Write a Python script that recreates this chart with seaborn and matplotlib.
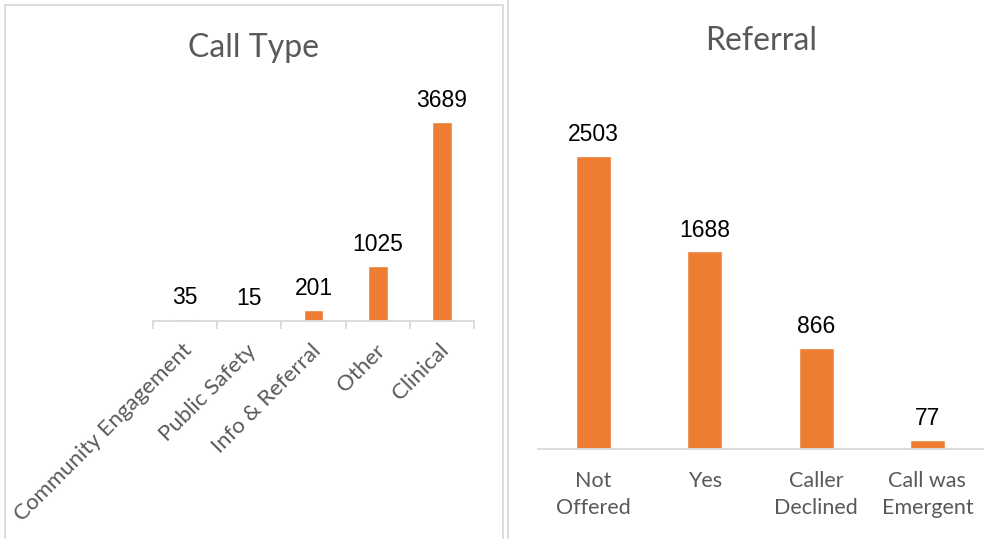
import matplotlib
matplotlib.use("Agg")
import matplotlib.pyplot as plt
import matplotlib.transforms as mtransforms
from matplotlib.patches import Rectangle
from matplotlib.lines import Line2D
import seaborn as sns
import pandas as pd

# ---- data ----
call_types = ["Community Engagement", "Public Safety", "Info & Referral", "Other", "Clinical"]
call_counts = [35, 15, 201, 1025, 3689]
referral_cats = ["Not\nOffered", "Yes", "Caller\nDeclined", "Call was\nEmergent"]
referral_counts = [2503, 1688, 866, 77]

ORANGE = "#ED7D31"
GRID = "#D9D9D9"
GRAY = "#595959"
TXT_FONT = ["Lato", "DejaVu Sans"]
NUM_FONT = ["Liberation Sans", "DejaVu Sans"]

sns.set_theme(style="white")
plt.rcParams["font.family"] = TXT_FONT

W, H = 1001, 539
fig = plt.figure(figsize=(W / 100, H / 100), dpi=100)
fig.patch.set_facecolor("white")

# panel borders
fig.patches.append(Rectangle((5 / W, -0.05), (503 - 5) / W, 1.05 - 5 / H,
                             transform=fig.transFigure, fill=False,
                             edgecolor=GRID, linewidth=1.3))
fig.lines.append(Line2D([508.5 / W, 508.5 / W], [0, 1], transform=fig.transFigure,
                        color=GRID, linewidth=1.3))

# ---- left chart ----
ax1 = fig.add_axes([153 / W, (H - 321) / H, 321 / W, 216 / H])
df1 = pd.DataFrame({"type": call_types, "count": call_counts})
sns.barplot(data=df1, x="type", y="count", color=ORANGE, width=0.31,
            saturation=1, ax=ax1)
ax1.set_xlim(-0.5, len(call_types) - 0.5)
ax1.set_ylim(0, 4000)
ax1.bar_label(ax1.containers[0], labels=[str(v) for v in call_counts],
              padding=7, fontsize=16.5, color="black", family=NUM_FONT)

# ---- right chart ----
ax2 = fig.add_axes([538 / W, (H - 449) / H, 445 / W, 328 / H])
df2 = pd.DataFrame({"ref": referral_cats, "count": referral_counts})
sns.barplot(data=df2, x="ref", y="count", color=ORANGE, width=0.315,
            saturation=1, ax=ax2)
ax2.set_xlim(-0.5, len(referral_cats) - 0.5)
ax2.set_ylim(0, 2800)
ax2.bar_label(ax2.containers[0], labels=[str(v) for v in referral_counts],
              padding=7, fontsize=16.5, color="black", family=NUM_FONT)

for ax in (ax1, ax2):
    ax.set_facecolor("none")
    for s in ("left", "right", "top"):
        ax.spines[s].set_visible(False)
    ax.spines["bottom"].set_color(GRID)
    ax.spines["bottom"].set_linewidth(1.3)
    ax.set_yticks([])
    ax.set_xlabel("")
    ax.set_ylabel("")

# left axis ticks at category boundaries
ax1.set_xticks([i - 0.5 for i in range(len(call_types) + 1)], minor=True)
ax1.tick_params(axis="x", which="minor", direction="out", length=5.5, width=1.3,
                color=GRID, bottom=True)
ax1.tick_params(axis="x", which="major", length=0, pad=19)
ax1.set_xticks(range(len(call_types)))
ax1.set_xticklabels(call_types, rotation=45, ha="right", va="center",
                    rotation_mode="anchor", fontsize=16, color=GRAY)
offset = mtransforms.ScaledTranslation(4 / 100, 0, fig.dpi_scale_trans)
for lbl in ax1.get_xticklabels():
    lbl.set_transform(lbl.get_transform() + offset)

ax2.tick_params(axis="x", which="major", length=0, pad=16)
ax2.set_xticks(range(len(referral_cats)))
ax2.set_xticklabels(referral_cats, fontsize=15.5, color=GRAY, linespacing=1.45)

# titles
fig.text(253 / W, 1 - 48 / H, "Call Type", ha="center", va="center",
         fontsize=23, color=GRAY)
fig.text(761 / W, 1 - 41 / H, "Referral", ha="center", va="center",
         fontsize=23, color=GRAY)

fig.savefig("out.png", dpi=100)
